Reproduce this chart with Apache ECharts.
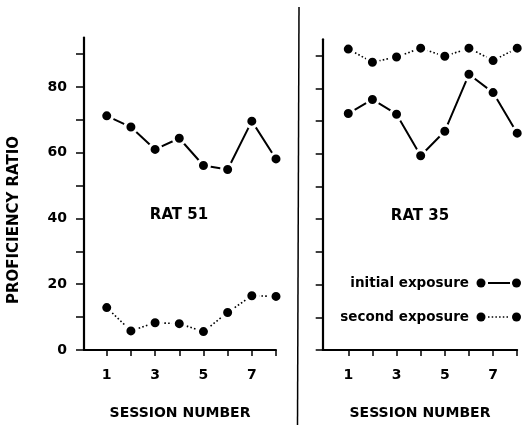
<!DOCTYPE html>
<html>
<head>
<meta charset="utf-8">
<script src="https://cdn.jsdelivr.net/npm/echarts@6/dist/echarts.min.js"></script>
<style>
html,body{margin:0;padding:0;background:#fff;}
#chart{width:524px;height:425px;}
</style>
</head>
<body>
<div id="chart"></div>
<script>
// ---- data ----
var sessions = [1, 2, 3, 4, 5, 6, 7, 8];
var rat51Initial = [71.2, 67.8, 61.0, 64.4, 56.1, 54.9, 69.6, 58.1];
var rat51Second  = [12.9, 5.8, 8.3, 8.0, 5.6, 11.4, 16.5, 16.3];
var rat35Initial = [72.3, 76.6, 72.1, 59.4, 66.9, 84.3, 78.7, 66.3];
var rat35Second  = [92.0, 88.0, 89.6, 92.3, 89.8, 92.3, 88.5, 92.3];
var xTickValues = [1, 2, 3, 4, 5, 6, 7, 8];
var xLabelValues = [1, 3, 5, 7];
var yTickValues = [0, 10, 20, 30, 40, 50, 60, 70, 80, 90];
var yLabelValues = [0, 20, 40, 60, 80];
var panelTitles = ['RAT 51', 'RAT 35'];
var legendNames = ['initial exposure', 'second exposure'];
var xAxisTitle = 'SESSION NUMBER';
var yAxisTitle = 'PROFICIENCY RATIO';

function pairs(vals) { return sessions.map(function (s, i) { return [s, vals[i]]; }); }

var FONT = 'DejaVu Sans';
var black = '#000';

function xAxis(grid, min) {
  return {
    gridIndex: grid, type: 'value', min: min, max: 8,
    axisLine: { show: true, onZero: false, lineStyle: { color: black, width: 2 } },
    axisTick: { show: true, customValues: xTickValues, length: 6, lineStyle: { color: black, width: 1.5 } },
    axisLabel: { customValues: xLabelValues, margin: 18, color: black, fontFamily: FONT, fontWeight: 'bold', fontSize: 14 },
    splitLine: { show: false },
    name: xAxisTitle, nameLocation: 'middle', nameGap: 56,
    nameTextStyle: { color: black, fontFamily: FONT, fontWeight: 'bold', fontSize: 14 }
  };
}
function yAxis(grid, showLabels, tickLen) {
  return {
    gridIndex: grid, type: 'value', min: 0, max: 95,
    axisLine: { show: true, onZero: false, lineStyle: { color: black, width: 2.2 } },
    axisTick: { show: true, customValues: yTickValues, length: tickLen, lineStyle: { color: black, width: 1.5 } },
    axisLabel: { show: showLabels, customValues: yLabelValues, margin: 17, color: black, fontFamily: FONT, fontWeight: 'bold', fontSize: 14 },
    splitLine: { show: false }
  };
}
function lineSeries(grid, vals, dotted) {
  return {
    type: 'line', xAxisIndex: grid, yAxisIndex: grid, data: pairs(vals),
    symbol: 'circle', symbolSize: 12,
    itemStyle: { color: black, borderColor: '#fff', borderWidth: 3 },
    lineStyle: dotted ? { color: black, width: 1.6, type: [1.6, 2.2] } : { color: black, width: 2 },
    emphasis: { disabled: true }, silent: true
  };
}

var chart = echarts.init(document.getElementById('chart'), null, { renderer: 'canvas' });
chart.setOption({
  animation: false,
  backgroundColor: '#fff',
  grid: [
    { left: 84, top: 37.6, width: 192, height: 313 },
    { left: 322.7, top: 39.3, width: 194.5, height: 313 }
  ],
  xAxis: [xAxis(0, 0.06), xAxis(1, -0.06)],
  yAxis: [yAxis(0, true, 8), yAxis(1, false, 7)],
  series: [
    lineSeries(0, rat51Initial, false),
    lineSeries(0, rat51Second, true),
    lineSeries(1, rat35Initial, false),
    lineSeries(1, rat35Second, true)
  ],
  graphic: [
    { type: 'line', shape: { x1: 299, y1: 7, x2: 297.5, y2: 425 }, style: { stroke: black, lineWidth: 1.5 } },
    { type: 'text', x: 14, y: 220, rotation: Math.PI / 2,
      style: { text: yAxisTitle, fill: black, font: 'bold 15px "DejaVu Sans"', align: 'center', verticalAlign: 'middle', textAlign: 'center', textVerticalAlign: 'middle' } },
    { type: 'text', x: 179, y: 215,
      style: { text: panelTitles[0], fill: black, font: 'bold 15px "DejaVu Sans"', align: 'center', verticalAlign: 'middle', textAlign: 'center', textVerticalAlign: 'middle' } },
    { type: 'text', x: 420, y: 216,
      style: { text: panelTitles[1], fill: black, font: 'bold 15px "DejaVu Sans"', align: 'center', verticalAlign: 'middle', textAlign: 'center', textVerticalAlign: 'middle' } },
    { type: 'text', x: 469, y: 283,
      style: { text: legendNames[0], fill: black, font: 'bold 13.5px "DejaVu Sans"', align: 'right', verticalAlign: 'middle', textAlign: 'right', textVerticalAlign: 'middle' } },
    { type: 'text', x: 469, y: 317,
      style: { text: legendNames[1], fill: black, font: 'bold 13.5px "DejaVu Sans"', align: 'right', verticalAlign: 'middle', textAlign: 'right', textVerticalAlign: 'middle' } },
    { type: 'line', shape: { x1: 488, y1: 283, x2: 510, y2: 283 }, style: { stroke: black, lineWidth: 2 } },
    { type: 'circle', shape: { cx: 481, cy: 283, r: 4.5 }, style: { fill: black } },
    { type: 'circle', shape: { cx: 516.5, cy: 283, r: 4.5 }, style: { fill: black } },
    { type: 'line', shape: { x1: 488, y1: 317, x2: 510, y2: 317 }, style: { stroke: black, lineWidth: 1.5, lineDash: [1.5, 2.2] } },
    { type: 'circle', shape: { cx: 481, cy: 317, r: 4.5 }, style: { fill: black } },
    { type: 'circle', shape: { cx: 516.5, cy: 317, r: 4.5 }, style: { fill: black } }
  ]
});
</script>
</body>
</html>
